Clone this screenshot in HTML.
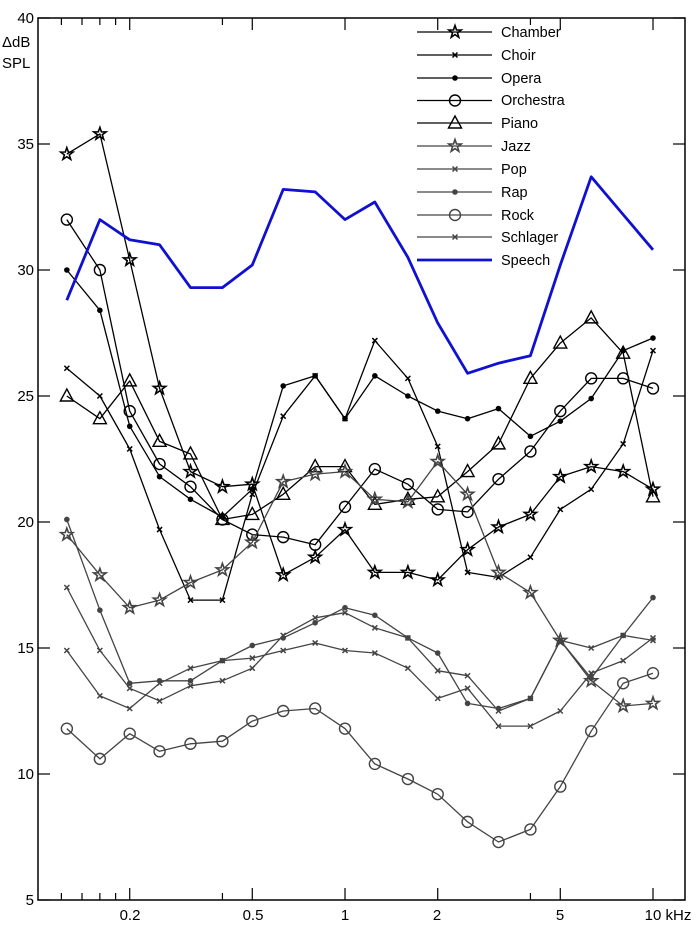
<!DOCTYPE html>
<html><head><meta charset="utf-8"><style>
body{margin:0;background:#fff}
svg{display:block;font-family:"Liberation Sans",sans-serif}
</style></head><body>
<svg id="s" width="700" height="926" viewBox="0 0 700 926" xmlns="http://www.w3.org/2000/svg">
<rect x="38" y="18" width="647" height="882" fill="none" stroke="#000" stroke-width="1.5"/>
<g font-size="15" fill="#000" text-anchor="end">
<text x="34" y="23">40</text><text x="34" y="149">35</text><text x="34" y="275">30</text>
<text x="34" y="401">25</text><text x="34" y="527">20</text><text x="34" y="653">15</text>
<text x="34" y="779">10</text><text x="34" y="905">5</text>
</g>
<text x="2" y="47" font-size="15">ΔdB</text>
<text x="2" y="68" font-size="15">SPL</text>
<g font-size="15" text-anchor="middle">
<text x="130" y="920">0.2</text><text x="253" y="920">0.5</text><text x="345" y="920">1</text>
<text x="437" y="920">2</text><text x="560" y="920">5</text><text x="668" y="920">10 kHz</text>
</g>
<g id="ticks" stroke="#000" stroke-width="1.2"></g>
<g id="series"></g>
<g id="legend" font-size="14"></g>
<g font-size="14.5">
<text x="501" y="37">Chamber</text><text x="501" y="60">Choir</text><text x="501" y="83">Opera</text>
<text x="501" y="105">Orchestra</text><text x="501" y="128">Piano</text><text x="501" y="151">Jazz</text>
<text x="501" y="174">Pop</text><text x="501" y="197">Rap</text><text x="501" y="220">Rock</text>
<text x="501" y="242">Schlager</text><text x="501" y="265">Speech</text>
</g>
</svg>
<script>
var NS="http://www.w3.org/2000/svg";
function el(p,t,a){var e=document.createElementNS(NS,t);for(var k in a)e.setAttribute(k,a[k]);p.appendChild(e);return e;}
var X=f=>345+308*Math.log10(f), Y=v=>900-25.2*(v-5);
var tk=document.getElementById('ticks');
[0.12,0.14,0.16,0.18,0.4,4].forEach(f=>{var x=X(f);el(tk,'line',{x1:x,x2:x,y1:900,y2:893});el(tk,'line',{x1:x,x2:x,y1:18,y2:25});});
[0.2,0.5,1,2,5,10].forEach(f=>{var x=X(f);el(tk,'line',{x1:x,x2:x,y1:900,y2:888});el(tk,'line',{x1:x,x2:x,y1:18,y2:30});});
for(var v=5;v<=40;v+=5){var y=Y(v);el(tk,'line',{x1:38,x2:50,y1:y,y2:y});el(tk,'line',{x1:685,x2:673,y1:y,y2:y});}
var fr=[0.125,0.16,0.2,0.25,0.315,0.4,0.5,0.63,0.8,1,1.25,1.6,2,2.5,3.15,4,5,6.3,8,10];
var B="#000",G="#444";
var S=[
["star",B,[34.6,35.4,30.4,25.3,22,21.4,21.5,17.9,18.6,19.7,18,18,17.7,18.9,19.8,20.3,21.8,22.2,22,21.3]],
["x",B,[26.1,25,22.9,19.7,16.9,16.9,21.1,24.2,25.8,24.1,27.2,25.7,23,18,17.8,18.6,20.5,21.3,23.1,26.8]],
["dot",B,[30,28.4,23.8,21.8,20.9,20.2,21.3,25.4,25.8,24.1,25.8,25,24.4,24.1,24.5,23.4,24,24.9,26.8,27.3]],
["circ",B,[32,30,24.4,22.3,21.4,20.1,19.5,19.4,19.1,20.6,22.1,21.5,20.5,20.4,21.7,22.8,24.4,25.7,25.7,25.3]],
["tri",B,[25,24.1,25.6,23.2,22.7,20.1,20.3,21.1,22.2,22.2,20.7,20.9,21,22,23.1,25.7,27.1,28.1,26.7,21]],
["star",G,[19.5,17.9,16.6,16.9,17.6,18.1,19.2,21.6,21.9,22,20.9,20.8,22.4,21.1,18,17.2,15.3,13.7,12.7,12.8]],
["x",G,[14.9,13.1,12.6,13.6,14.2,14.5,14.6,14.9,15.2,14.9,14.8,14.2,13,13.4,11.9,11.9,12.5,14,14.5,15.4]],
["dot",G,[20.1,16.5,13.6,13.7,13.7,14.5,15.1,15.4,16,16.6,16.3,15.4,14.8,12.8,12.6,13,15.3,13.8,15.5,17]],
["circ",G,[11.8,10.6,11.6,10.9,11.2,11.3,12.1,12.5,12.6,11.8,10.4,9.8,9.2,8.1,7.3,7.8,9.5,11.7,13.6,14]],
["x",G,[17.4,14.9,13.4,12.9,13.5,13.7,14.2,15.5,16.2,16.4,15.8,15.4,14.1,13.9,12.5,13,15.3,15,15.5,15.3]],
["none","#1010d0",[28.8,32,31.2,31,29.3,29.3,30.2,33.2,33.1,32,32.7,30.5,27.9,25.9,26.3,26.6,30.2,33.7,32.2,30.8]]
];
function mark(g,t,c,x,y){
 if(t=="star"){var p=[];for(var i=0;i<10;i++){var r=i%2?2.6:6.5,a=-Math.PI/2+i*Math.PI/5;p.push((x+r*Math.cos(a)).toFixed(1)+","+(y+r*Math.sin(a)).toFixed(1));}el(g,'polygon',{points:p.join(' '),fill:'none',stroke:c,'stroke-width':1.6});}
 else if(t=="x"){el(g,'path',{d:`M${x-2.5},${y-2.5}L${x+2.5},${y+2.5}M${x-2.5},${y+2.5}L${x+2.5},${y-2.5}`,stroke:c,'stroke-width':1.5});}
 else if(t=="dot"){el(g,'circle',{cx:x,cy:y,r:2.8,fill:c});}
 else if(t=="circ"){el(g,'circle',{cx:x,cy:y,r:5.5,fill:'none',stroke:c,'stroke-width':1.4});}
 else if(t=="tri"){el(g,'polygon',{points:`${x},${y-7} ${x-6.5},${y+5} ${x+6.5},${y+5}`,fill:'none',stroke:c,'stroke-width':1.4});}
}
var sg=document.getElementById('series'),lg=document.getElementById('legend');
S.forEach((s,i)=>{
 var pts=s[2].map((v,j)=>X(fr[j]).toFixed(1)+","+Y(v).toFixed(1)).join(' ');
 var w=s[0]=="none"?2.8:1.3;
 el(sg,'polyline',{points:pts,fill:'none',stroke:s[1],'stroke-width':w,'stroke-linejoin':'round'});
 s[2].forEach((v,j)=>mark(sg,s[0],s[1],X(fr[j]),Y(v)));
 var ly=[32,55,78,100.5,123,146,169,192,215,237,260][i];
 el(lg,'line',{x1:417,x2:492,y1:ly,y2:ly,stroke:s[1],'stroke-width':w});
 mark(lg,s[0],s[1],455,ly);
});
</script>
</body></html>
